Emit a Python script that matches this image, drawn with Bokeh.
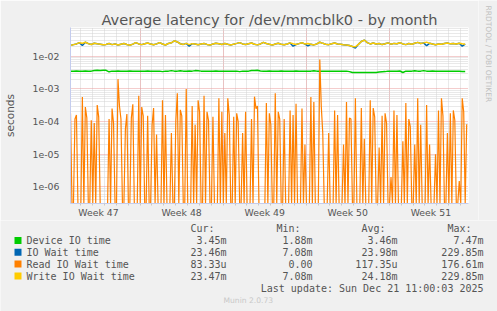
import numpy as np
from bokeh.plotting import figure
from bokeh.layouts import column, row
from bokeh.models import Range1d, FixedTicker, CustomJSTickFormatter
from bokeh.core.properties import value
from bokeh.embed import file_html
from bokeh.resources import INLINE

# ---------------- data (seconds) ----------------
sample_step_days = 0.25        # device / io wait / write: one sample every 6 h
read_step_days = 0.125         # read io wait: one sample every 3 h

device_io_time = [
    0.00352, 0.00352, 0.00355, 0.00352, 0.00352, 0.00355, 0.00352, 0.00352, 0.00370, 0.00375,
    0.00370, 0.00375, 0.00372, 0.00335, 0.00352, 0.00352, 0.00355, 0.00352, 0.00352, 0.00352,
    0.00355, 0.00352, 0.00350, 0.00352, 0.00352, 0.00352, 0.00355, 0.00352, 0.00352, 0.00352,
    0.00352, 0.00340, 0.00352, 0.00352, 0.00365, 0.00352, 0.00352, 0.00360, 0.00352, 0.00352,
    0.00355, 0.00352, 0.00365, 0.00360, 0.00352, 0.00352, 0.00352, 0.00352, 0.00352, 0.00355,
    0.00352, 0.00352, 0.00352, 0.00352, 0.00352, 0.00352, 0.00352, 0.00340, 0.00352, 0.00352,
    0.00352, 0.00370, 0.00368, 0.00372, 0.00355, 0.00352, 0.00352, 0.00355, 0.00352, 0.00352,
    0.00352, 0.00355, 0.00352, 0.00352, 0.00352, 0.00352, 0.00355, 0.00352, 0.00352, 0.00352,
    0.00352, 0.00352, 0.00360, 0.00352, 0.00352, 0.00352, 0.00352, 0.00352, 0.00352, 0.00352,
    0.00352, 0.00352, 0.00352, 0.00352, 0.00340, 0.00318, 0.00320, 0.00318, 0.00322, 0.00320,
    0.00318, 0.00320, 0.00318, 0.00322, 0.00330, 0.00335, 0.00340, 0.00352, 0.00352, 0.00352,
    0.00352, 0.00355, 0.00320, 0.00352, 0.00352, 0.00352, 0.00360, 0.00352, 0.00352, 0.00365,
    0.00352, 0.00352, 0.00355, 0.00352, 0.00352, 0.00352, 0.00352, 0.00352, 0.00352, 0.00352,
    0.00352, 0.00350, 0.00345, 0.00345,
]

io_wait_time = [
    0.0215, 0.0228, 0.0240, 0.0262, 0.0215, 0.0270, 0.0245, 0.0230, 0.0252, 0.0241,
    0.0236, 0.0225, 0.0232, 0.0246, 0.0228, 0.0240, 0.0222, 0.0235, 0.0248, 0.0231,
    0.0219, 0.0236, 0.0262, 0.0240, 0.0228, 0.0244, 0.0255, 0.0237, 0.0226, 0.0241,
    0.0264, 0.0238, 0.0222, 0.0248, 0.0259, 0.0300, 0.0276, 0.0243, 0.0232, 0.0250,
    0.0205, 0.0245, 0.0238, 0.0226, 0.0237, 0.0246, 0.0232, 0.0221, 0.0239, 0.0252,
    0.0243, 0.0230, 0.0248, 0.0234, 0.0222, 0.0236, 0.0249, 0.0263, 0.0240, 0.0231,
    0.0244, 0.0256, 0.0235, 0.0224, 0.0240, 0.0268, 0.0247, 0.0233, 0.0221, 0.0238,
    0.0250, 0.0236, 0.0226, 0.0239, 0.0258, 0.0205, 0.0230, 0.0245, 0.0262, 0.0237,
    0.0210, 0.0234, 0.0224, 0.0240, 0.0270, 0.0250, 0.0236, 0.0228, 0.0243, 0.0255,
    0.0240, 0.0236, 0.0228, 0.0222, 0.0215, 0.0200, 0.0180, 0.0232, 0.0285, 0.0315,
    0.0262, 0.0240, 0.0256, 0.0238, 0.0247, 0.0229, 0.0243, 0.0258, 0.0236, 0.0249,
    0.0244, 0.0262, 0.0240, 0.0228, 0.0246, 0.0235, 0.0252, 0.0268, 0.0246, 0.0258,
    0.0212, 0.0250, 0.0238, 0.0226, 0.0240, 0.0234, 0.0247, 0.0256, 0.0241, 0.0249,
    0.0238, 0.0252, 0.0205, 0.0235,
]

read_io_wait_time = [
    1.8e-4, 0, 0, 1.2e-4, 1.6e-4, 0, 0, 0, 5.7e-4, 0, 2.8e-4, 1.3e-4, 0, 0, 1.1e-4, 0, 9e-5, 0, 3.2e-4, 1.4e-4,
    0, 0, 0, 0, 0, 0, 1.2e-4, 0, 2.5e-4, 9e-5, 0, 0, 2.0e-3, 3e-4, 1.2e-4, 0, 0, 6e-5, 1.7e-4, 0,
    0, 1.3e-4, 3.4e-4, 0, 0, 0, 6.2e-4, 0, 2.8e-4, 1.5e-4, 0, 0, 1.5e-4, 0, 0, 8e-5, 2.6e-4, 0, 4e-5, 0,
    0, 0, 4.5e-4, 0, 1.6e-4, 0, 0, 0, 4.5e-5, 0, 0, 1.1e-4, 7.4e-4, 0, 2.3e-4, 1.5e-4, 0, 0, 1.0e-3, 0,
    0, 0, 3e-4, 0, 8e-5, 0, 4.5e-4, 2e-4, 0, 0, 6.2e-4, 0, 2.0e-4, 1.1e-4, 0, 0, 1.4e-4, 0, 0, 0,
    5.2e-4, 0, 2.0e-4, 0, 4.5e-5, 0, 5.2e-4, 1.6e-4, 0, 0, 1.4e-4, 0, 1.8e-4, 1.0e-4, 0, 0, 4.5e-5, 0, 2.0e-4, 0,
    0, 0, 1.2e-4, 0, 5.8e-4, 2.5e-4, 3e-4, 0, 0, 0, 0, 0, 3.7e-4, 0, 1.8e-4, 8e-5, 0, 0, 7.4e-4, 0,
    2e-4, 1.2e-4, 0, 0, 1.2e-4, 0, 0, 0, 2.2e-4, 0, 1.6e-4, 0, 3.5e-4, 0, 0, 0, 2.5e-4, 0, 2e-5, 0,
    0, 0, 5.7e-4, 0, 4e-4, 0, 0, 0, 8e-3, 3e-4, 4.5e-5, 0, 0, 0, 4.5e-5, 0, 0, 0, 2.2e-4, 0,
    1.6e-4, 0, 0, 0, 2e-5, 0, 4e-4, 0, 1.3e-4, 1.2e-4, 0, 0, 5.2e-4, 0, 0, 0, 2.6e-4, 0, 3e-5, 0,
    0, 0, 4.5e-4, 0, 2.6e-4, 1.4e-4, 0, 0, 1.6e-5, 0, 1.5e-4, 0, 1.8e-4, 9e-5, 0, 0, 2e-6, 0, 2.2e-4, 0,
    1.6e-4, 0, 0, 0, 2.5e-5, 0, 3.7e-4, 0, 1.2e-4, 7e-5, 0, 0, 2e-5, 0, 5.2e-4, 0, 8e-5, 0, 0, 0,
    3.2e-4, 0, 2e-5, 0, 0, 0, 1e-5, 0, 2.2e-4, 0, 5.2e-4, 1.5e-4, 0, 0, 4.5e-5, 0, 1.8e-4, 0, 2.2e-4, 1.1e-4,
    0, 0, 1.5e-6, 0, 5.2e-4, 2e-4, 0, 8.3e-5,
]

write_io_wait_time = [
    0.0215, 0.0228, 0.0240, 0.0262, 0.0250, 0.0270, 0.0245, 0.0230, 0.0252, 0.0241,
    0.0236, 0.0225, 0.0232, 0.0246, 0.0228, 0.0240, 0.0222, 0.0235, 0.0248, 0.0231,
    0.0219, 0.0236, 0.0262, 0.0240, 0.0228, 0.0244, 0.0255, 0.0237, 0.0226, 0.0241,
    0.0264, 0.0238, 0.0222, 0.0248, 0.0259, 0.0300, 0.0276, 0.0243, 0.0232, 0.0250,
    0.0228, 0.0245, 0.0238, 0.0226, 0.0237, 0.0246, 0.0232, 0.0221, 0.0239, 0.0252,
    0.0243, 0.0230, 0.0248, 0.0234, 0.0222, 0.0236, 0.0249, 0.0263, 0.0240, 0.0231,
    0.0244, 0.0256, 0.0235, 0.0224, 0.0240, 0.0268, 0.0247, 0.0233, 0.0221, 0.0238,
    0.0250, 0.0236, 0.0226, 0.0239, 0.0258, 0.0242, 0.0230, 0.0245, 0.0262, 0.0237,
    0.0248, 0.0234, 0.0224, 0.0240, 0.0270, 0.0250, 0.0236, 0.0228, 0.0243, 0.0255,
    0.0240, 0.0236, 0.0228, 0.0222, 0.0215, 0.0200, 0.0196, 0.0232, 0.0285, 0.0315,
    0.0262, 0.0240, 0.0256, 0.0238, 0.0247, 0.0229, 0.0243, 0.0258, 0.0236, 0.0249,
    0.0244, 0.0262, 0.0240, 0.0228, 0.0246, 0.0235, 0.0252, 0.0268, 0.0246, 0.0258,
    0.0272, 0.0250, 0.0238, 0.0226, 0.0240, 0.0234, 0.0247, 0.0256, 0.0241, 0.0249,
    0.0238, 0.0252, 0.0241, 0.0235,
]

week_labels = ["Week 47", "Week 48", "Week 49", "Week 50", "Week 51"]

legend_names = ["Device IO time", "IO Wait time", "Read IO Wait time", "Write IO Wait time"]
legend_colors = ["#00CC00", "#0066B3", "#FF8000", "#FFCC00"]
cur_vals = ["3.45m", "23.46m", "83.33u", "23.47m"]
min_vals = ["1.88m", "7.08m", "0.00", "7.08m"]
avg_vals = ["3.46m", "23.98m", "117.35u", "24.18m"]
max_vals = ["7.47m", "229.85m", "176.61m", "229.85m"]
col_heads = ["Cur:", "Min:", "Avg:", "Max:"]
last_update = "Last update: Sun Dec 21 11:00:03 2025"
version = "Munin 2.0.73"
title = "Average latency for /dev/mmcblk0 - by month"
watermark = "RRDTOOL / TOBI OETIKER"

# ---------------- layout ----------------
W, H = 497, 311
H1 = 220                       # height of the chart part
W1 = 478                       # width of the chart part (right strip holds the watermark)
FL, FR, FT, FB = 67, 468, 27, 204
px_per_day = 11.96
x_end = (FR - FL) / px_per_day
first_week_start = 5.86          # days after the left edge
y_lo, y_hi = 3.1e-7, 0.0764

TXT = "#555555"
AXC = "#C4CCEE"
BG = "#F0F0F0"

t = np.arange(len(device_io_time)) * sample_step_days
t_read = np.arange(len(read_io_wait_time)) * read_step_days

p = figure(width=W1, height=H1, x_range=Range1d(0, x_end), y_range=Range1d(y_lo, y_hi),
           y_axis_type="log", output_backend="svg", toolbar_location=None,
           min_border_left=FL, min_border_right=W1 - FR, min_border_top=FT,
           min_border_bottom=H1 - FB, background_fill_color="white",
           border_fill_color=BG, outline_line_color=None)
p.frame_align = False

p.title.text = title
p.title.align = "center"
p.title.offset = (W / 2) - (FL + FR) / 2
p.title.standoff = 0
p.title.text_font = "DejaVu Sans"
p.title.text_font_size = "14.6px"
p.title.text_font_style = "normal"
p.title.text_color = TXT

week_bounds = [first_week_start + 7 * k for k in range(5) if first_week_start + 7 * k < x_end]
week_mids = [first_week_start - 3.5 + 7 * k for k in range(len(week_labels))]
day_lines = [first_week_start - 6 + d for d in range(40) if 0 < first_week_start - 6 + d < x_end]

# x axis
p.xaxis.ticker = FixedTicker(ticks=week_mids, minor_ticks=day_lines)
p.xaxis.formatter = CustomJSTickFormatter(args=dict(labels=week_labels), code="return labels[index];")
p.xaxis.major_tick_line_color = None
p.xaxis.major_tick_out = 0
p.xaxis.major_tick_in = 0
p.xaxis.minor_tick_in = 0
p.xaxis.minor_tick_out = 2
p.xaxis.minor_tick_line_color = "#C8C8C8"
p.xaxis.major_label_standoff = 1

# y axis
decades = [10.0 ** e for e in range(-6, -1)]
minors = [m * 10.0 ** e for e in range(-7, -1) for m in range(2, 10)]
p.yaxis.ticker = FixedTicker(ticks=decades, minor_ticks=minors)
p.yaxis.formatter = CustomJSTickFormatter(code="""
const e = Math.round(Math.log10(tick));
const a = Math.abs(e);
return '1e' + (e < 0 ? '-' : '+') + (a < 10 ? '0' + a : '' + a);
""")
p.yaxis.major_tick_line_color = None
p.yaxis.minor_tick_line_color = None
p.yaxis.major_tick_in = 0
p.yaxis.major_tick_out = 0
p.yaxis.major_label_standoff = 7
p.yaxis.axis_label = "seconds"
p.yaxis.axis_label_standoff = 14
p.yaxis.axis_label_text_font = "DejaVu Sans"
p.yaxis.axis_label_text_font_size = "10.5px"
p.yaxis.axis_label_text_font_style = "normal"
p.yaxis.axis_label_text_color = TXT

for ax in (p.xaxis, p.yaxis):
    ax.major_label_text_font = "DejaVu Sans"
    ax.major_label_text_font_size = "9.33px"
    ax.major_label_text_color = TXT
    ax.axis_line_color = AXC

# grids
p.xgrid.ticker = FixedTicker(ticks=week_bounds, minor_ticks=day_lines)
for g in (p.xgrid, p.ygrid):
    g.grid_line_color = "#E89A9A"
    g.grid_line_dash = "1 1"
    g.minor_grid_line_color = "#D2D2D2"
    g.minor_grid_line_dash = "1 1"

# series
def floor(vals):
    v = np.asarray(vals, dtype=float)
    return np.where(v > 0, v, y_lo)

p.line(t, floor(device_io_time), line_color=legend_colors[0], line_width=1.5)
p.line(t, floor(io_wait_time), line_color=legend_colors[1], line_width=1.5)
p.line(t_read, floor(read_io_wait_time), line_color=legend_colors[2], line_width=1.2)
p.line(t, floor(write_io_wait_time), line_color=legend_colors[3], line_width=1.5)

# ---------------- watermark strip (canvas pixel coordinates) ----------------
r = figure(width=W - W1, height=H1, x_range=Range1d(W1, W), y_range=Range1d(H1, 0),
           x_axis_type=None, y_axis_type=None, output_backend="svg", toolbar_location=None,
           min_border=0, min_border_left=0, min_border_right=0, min_border_top=0,
           min_border_bottom=0, background_fill_color=BG, border_fill_color=BG,
           outline_line_color=None)
r.frame_align = False
r.grid.visible = False
r.text(x=[488], y=[5], text=[watermark], angle=-np.pi / 2, text_font=value("DejaVu Sans"),
       text_font_size=value("7.5px"), text_color="#C0C0C0", text_align="left",
       text_baseline="middle")

# ---------------- legend part (canvas pixel coordinates) ----------------
H2 = H - H1
q = figure(width=W, height=H2, x_range=Range1d(0, W), y_range=Range1d(H, H1),
           x_axis_type=None, y_axis_type=None, output_backend="svg", toolbar_location=None,
           min_border=0, min_border_left=0, min_border_right=0, min_border_top=0,
           min_border_bottom=0, background_fill_color=BG, border_fill_color=BG,
           outline_line_color=None)
q.frame_align = False
q.grid.visible = False

head_y = 227.8
row_y = [240, 251.7, 263.5, 275.5]
mono = value("DejaVu Sans Mono")
fs = value("10px")

q.text(x=[190, 276, 361, 447], y=[head_y] * 4, text=col_heads, text_font=mono,
       text_font_size=fs, text_color=TXT, text_align="left", text_baseline="middle")
q.quad(left=[14] * 4, right=[21] * 4, top=[y - 3.5 for y in row_y],
       bottom=[y + 3.5 for y in row_y], fill_color=legend_colors, line_color=None)
q.text(x=[26] * 4, y=row_y, text=legend_names, text_font=mono, text_font_size=fs,
       text_color=TXT, text_align="left", text_baseline="middle")
for xr, vals in zip([226, 312, 397, 483], [cur_vals, min_vals, avg_vals, max_vals]):
    q.text(x=[xr] * 4, y=row_y, text=vals, text_font=mono, text_font_size=fs,
           text_color=TXT, text_align="right", text_baseline="middle")
q.text(x=[483], y=[288], text=[last_update], text_font=mono, text_font_size=fs,
       text_color=TXT, text_align="right", text_baseline="middle")
q.text(x=[223], y=[299.5], text=[version], text_font=value("DejaVu Sans"),
       text_font_size=value("7.6px"), text_color="#C8C8C8", text_align="left",
       text_baseline="middle")

layout = column(row(p, r, spacing=0), q, spacing=0)
open("out.html", "w").write(file_html(layout, INLINE))
